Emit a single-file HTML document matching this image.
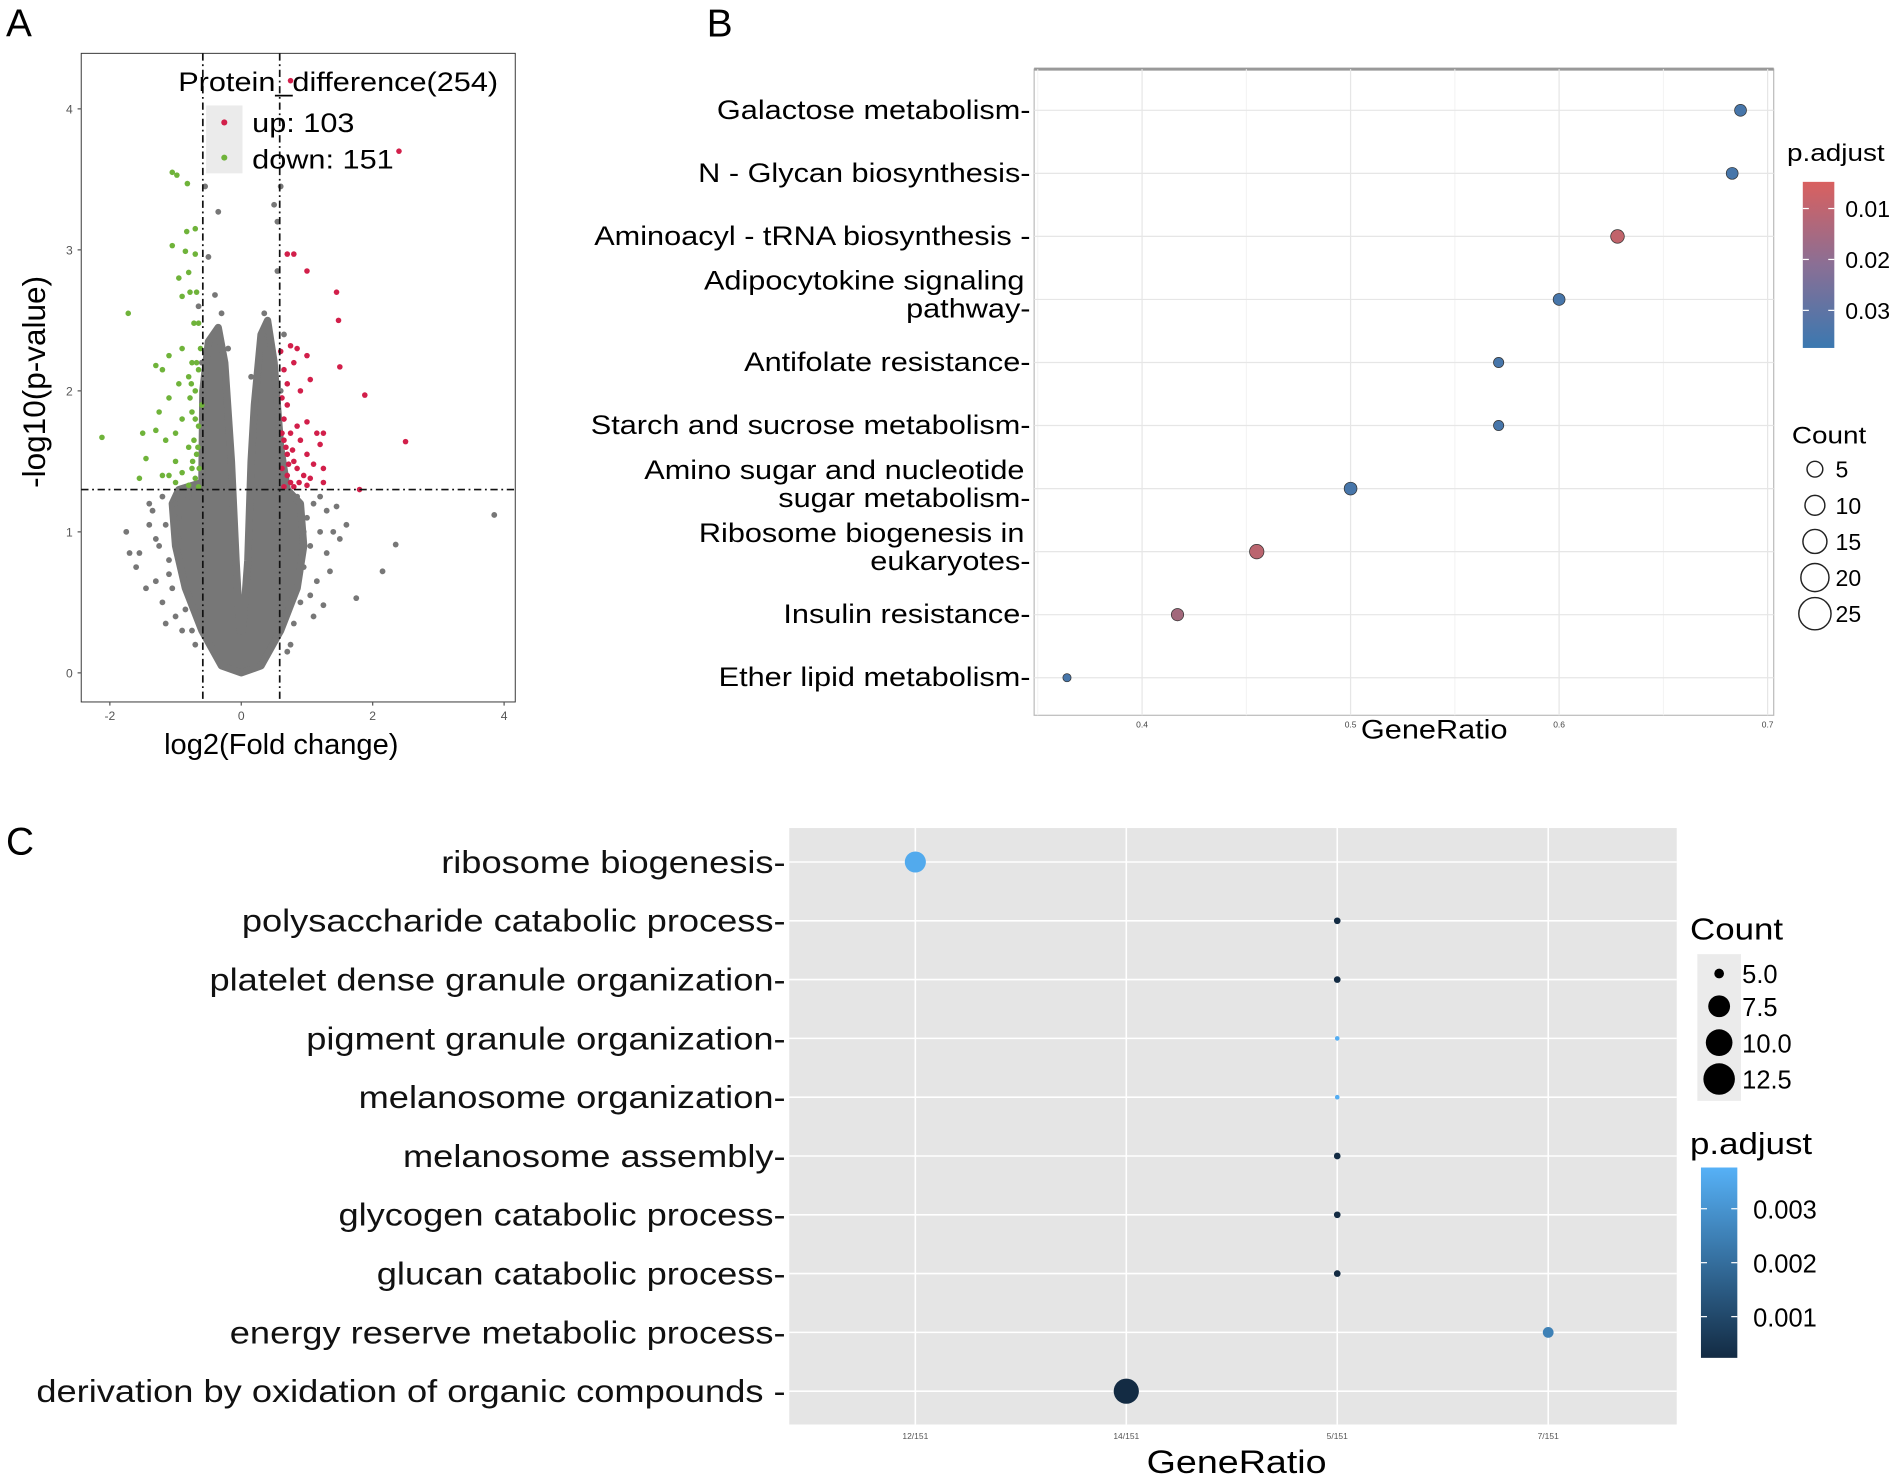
<!DOCTYPE html>
<html><head><meta charset="utf-8"><style>
html,body{margin:0;padding:0;background:#fff}
svg{display:block;font-family:"Liberation Sans",sans-serif}
</style></head><body>
<svg id="fig" width="1901" height="1482" viewBox="0 0 1568 1222.4" xmlns="http://www.w3.org/2000/svg">
<rect width="1568" height="1222.4" fill="#fff"/>
<text x="5" y="30" font-size="32">A</text>
<text x="583" y="30" font-size="32">B</text>
<text x="5" y="705" font-size="32">C</text>
<g id="A"></g>
<g id="B"></g>
<g id="C"></g>
</svg>
<script>
// ---------- Panel A data ----------
const volcXTicks=[-2,0,2,4];
const volcYTicks=[0,1,2,3,4];
const downX=[-1.05,-0.98,-0.82,-0.83,-0.7,-1.05,-0.85,-0.7,-0.8,-0.95,-0.78,-0.68,-0.9,-1.72,-0.72,-0.65,-0.9,-1.1,-0.75,-1.3,-1.2,-0.8,-0.65,-0.95,-0.7,-1.1,-0.75,-1.25,-0.9,-0.65,-1.3,-1.0,-2.12,-1.5,-1.15,-0.8,-0.68,-1.0,-0.75,-1.45,-1.2,-0.9,-0.7,-1.55,-1.0,-0.8,-0.65,-1.1,-0.6,-0.62,-0.72,-0.78,-0.66,-0.74,-0.7,-0.64,-0.76,-0.68];
const downY=[3.55,3.53,3.47,3.13,3.15,3.03,2.99,2.97,2.84,2.8,2.7,2.7,2.67,2.55,2.48,2.48,2.3,2.25,2.2,2.18,2.15,2.1,2.15,2.05,2.0,1.95,1.85,1.85,1.8,1.75,1.72,1.7,1.67,1.7,1.65,1.6,1.55,1.5,1.45,1.52,1.4,1.42,1.38,1.38,1.35,1.33,1.32,1.4,1.9,2.3,1.65,1.95,1.6,1.5,1.8,1.45,2.05,2.2];
const upX=[0.75,2.4,0.7,0.8,1.0,1.45,1.48,0.75,0.85,0.6,1.0,0.8,0.65,1.5,1.05,0.7,0.9,1.88,0.62,0.7,0.65,0.85,1.0,0.75,1.15,1.25,0.65,0.9,1.2,2.5,0.7,0.8,1.0,1.1,0.62,0.85,1.25,0.7,0.95,0.75,0.88,1.05,1.25,0.65,0.8,1.8,1.0,0.68,0.72,0.62,0.78];
const upY=[4.2,3.7,2.97,2.97,2.85,2.7,2.5,2.32,2.3,2.28,2.25,2.2,2.15,2.17,2.08,2.05,2.0,1.97,1.95,1.9,1.8,1.75,1.78,1.7,1.7,1.7,1.65,1.65,1.62,1.64,1.55,1.5,1.55,1.48,1.45,1.45,1.45,1.4,1.4,1.35,1.35,1.38,1.35,1.32,1.32,1.3,1.33,1.6,1.48,1.7,1.58];
const grayX=[-0.35,0.5,0.6,0.55,-0.55,-0.5,-0.4,-0.3,0.35,0.55,3.85,2.35,2.15,1.75,1.5,1.35,1.25,-1.75,-1.7,-1.6,-1.55,-1.4,-1.3,-1.3,-1.15,-0.9,-1.2,-1.35,1.1,1.2,1.3,1.0,0.95,-1.05,-1.1,-0.8,1.45,1.6,-0.95,1.05,0.85,-0.2,0.15,-1.25,-1.15,-1.0,-0.95,-1.2,-1.1,-1.4,-0.85,-0.75,-0.7,1.05,1.1,0.9,1.15,0.8,0.75,0.95,1.2,-0.6,-0.65,0.6,0.65,-1.45,-1.0,1.3,1.4,0.7,-0.6,0.6];
const grayY=[3.27,3.32,3.45,3.2,3.45,2.95,2.68,2.55,2.55,2.85,1.12,0.91,0.72,0.53,0.95,0.72,0.48,1.0,0.85,0.75,0.85,1.05,0.95,0.65,0.35,0.3,1.25,1.15,0.4,1.0,0.85,1.1,0.75,0.6,0.8,1.25,1.18,1.05,1.1,0.55,1.25,2.3,2.1,0.9,1.05,1.2,0.95,0.5,0.7,1.2,0.45,0.3,0.2,0.9,1.2,0.5,0.65,0.35,0.2,1.0,1.25,2.2,2.6,2.0,2.4,0.6,0.4,1.15,1.0,0.15,1.8,1.6];
const cloudX=[0,-0.3,-0.6,-0.85,-1.0,-1.05,-0.95,-0.6,-0.585,-0.5,-0.35,-0.25,-0.15,-0.08,-0.02,0.02,0.1,0.15,0.2,0.3,0.4,0.5,0.6,0.7,0.9,0.95,0.85,0.6,0.3];
const cloudY=[0,0.05,0.3,0.6,0.9,1.2,1.3,1.35,2.0,2.35,2.45,2.2,1.5,0.8,0.3,0.3,0.8,1.5,1.9,2.4,2.5,2.2,1.6,1.3,1.2,0.9,0.6,0.3,0.05];
const fcCut=[-0.585,0.585];
const pCut=1.3;

// ---------- Panel B data ----------
const keggTerms=["Galactose metabolism","N - Glycan biosynthesis","Aminoacyl - tRNA biosynthesis ","Adipocytokine signaling|pathway","Antifolate resistance","Starch and sucrose metabolism","Amino sugar and nucleotide|sugar metabolism","Ribosome biogenesis in|eukaryotes","Insulin resistance","Ether lipid metabolism"];
const keggRatio=[0.687,0.683,0.628,0.600,0.571,0.571,0.500,0.455,0.417,0.364];
const keggCount=[9,9,13,9,6,6,11,15,10,3];
const keggPadj=[0.032,0.032,0.012,0.032,0.032,0.032,0.032,0.013,0.017,0.032];
const keggXTicks=[0.4,0.5,0.6,0.7];
const keggPTicks=[0.01,0.02,0.03];
const keggCountTicks=[5,10,15,20,25];

// ---------- Panel C data ----------
const goTerms=["ribosome biogenesis","polysaccharide catabolic process","platelet dense granule organization","pigment granule organization","melanosome organization","melanosome assembly","glycogen catabolic process","glucan catabolic process","energy reserve metabolic process","derivation by oxidation of organic compounds "];
const goCats=["12/151","14/151","5/151","7/151"];
const goRatio=["12/151","5/151","5/151","5/151","5/151","5/151","5/151","5/151","7/151","14/151"];
const goCount=[12,5,5,4,4,5,5,5,7,14];
const goPadj=[0.0036,0.0002,0.0002,0.0037,0.0037,0.0002,0.0002,0.0002,0.0025,0.0002];
const goPTicks=[0.003,0.002,0.001];
const goCountTicks=[5.0,7.5,10.0,12.5];

const NS="http://www.w3.org/2000/svg";
function mk(parent,tag,attrs,text){const e=document.createElementNS(NS,tag);for(const k in attrs)e.setAttribute(k,attrs[k]);if(text!==undefined)e.textContent=text;parent.appendChild(e);return e;}
function lerp(a,b,t){return a+(b-a)*t;}
function mixHex(c1,c2,t){const p=c=>[1,3,5].map(i=>parseInt(c.substr(i,2),16));const a=p(c1),b=p(c2);return "rgb("+a.map((v,i)=>Math.round(lerp(v,b[i],t))).join(",")+")";}

// ===== Panel A =====
(function(){
const g=document.getElementById('A');
const L=67,R=425,T=44,B=579;
const sx=v=>199+54.2*v, sy=v=>555-116.3*v;
let e=mk(g,'rect',{x:L,y:T,width:R-L,height:B-T,fill:'#fff',stroke:'#333','stroke-width':0.8});

let d=cloudX.map((x,i)=>(i?'L':'M')+sx(x).toFixed(1)+','+sy(cloudY[i]).toFixed(1)).join('')+'Z';
e=mk(g,'path',{d:d,fill:'#777',stroke:'#777','stroke-width':6,'stroke-linejoin':'round'});

grayX.forEach((x,i)=>{const c=mk(g,'circle',{cx:sx(x),cy:sy(grayY[i]),r:2.4,fill:'#777'});
});
downX.forEach((x,i)=>{const c=mk(g,'circle',{cx:sx(x),cy:sy(downY[i]),r:2.3,fill:'#6fb33a'});
});
upX.forEach((x,i)=>{const c=mk(g,'circle',{cx:sx(x),cy:sy(upY[i]),r:2.3,fill:'#d21f4a'});
});
fcCut.forEach(v=>{const l=mk(g,'line',{x1:sx(v),x2:sx(v),y1:T,y2:B,stroke:'#111','stroke-width':1.4,'stroke-dasharray':'6,3,1.5,3'});
});
e=mk(g,'line',{x1:L,x2:R,y1:sy(pCut),y2:sy(pCut),stroke:'#111','stroke-width':1.4,'stroke-dasharray':'6,3,1.5,3'});

volcXTicks.forEach(v=>{mk(g,'line',{x1:sx(v),x2:sx(v),y1:B,y2:B+3,stroke:'#555'});
const t=mk(g,'text',{x:sx(v),y:B+15,'font-size':10,fill:'#555','text-anchor':'middle'},String(v));
});
volcYTicks.forEach(v=>{mk(g,'line',{x1:L-3,x2:L,y1:sy(v),y2:sy(v),stroke:'#555'});
const t=mk(g,'text',{x:L-7,y:sy(v)+4,'font-size':10,fill:'#555','text-anchor':'end'},String(v));
});
e=mk(g,'text',{x:232,y:622,'font-size':24,'text-anchor':'middle'},'log2(Fold change)');

e=mk(g,'text',{x:37,y:315,'font-size':26,'text-anchor':'middle',transform:'rotate(-90 37 315)'},'-log10(p-value)');

e=mk(g,'text',{x:147,y:75,'font-size':22,'data-stretch':'1'},'Protein_difference(254)');

mk(g,'rect',{x:170,y:87,width:30,height:56,fill:'#ebebeb'});
mk(g,'circle',{cx:185,cy:101,r:2.5,fill:'#d21f4a'});
mk(g,'circle',{cx:185,cy:130,r:2.5,fill:'#6fb33a'});
e=mk(g,'text',{x:208,y:109,'font-size':22,'data-stretch':'1'},'up: 103');

e=mk(g,'text',{x:208,y:139,'font-size':22,'data-stretch':'1'},'down: 151');

})();

// ===== Panel B =====
(function(){
const g=document.getElementById('B');
const L=853,R=1463,T=57,B=590;
const sx=v=>942+1720*(v-0.4), sy=i=>91+52*i;
const pc=p=>mixHex('#d9605f','#3b78b0',Math.max(0,Math.min(1,(p-0.008)/0.026)));
const rr=c=>1.2*Math.sqrt(c)+1.3;
let e=mk(g,'rect',{x:L,y:T,width:R-L,height:B-T,fill:'#fff',stroke:'#bbb','stroke-width':1});

mk(g,'line',{x1:L,x2:R,y1:T,y2:T,stroke:'#999','stroke-width':2.5});
[0.35,0.45,0.55,0.65].forEach(v=>mk(g,'line',{x1:sx(v),x2:sx(v),y1:T,y2:B,stroke:'#f2f2f2','stroke-width':0.8}));
keggXTicks.forEach(v=>{mk(g,'line',{x1:sx(v),x2:sx(v),y1:T,y2:B,stroke:'#e6e6e6','stroke-width':1});
const t=mk(g,'text',{x:sx(v),y:B+10,'font-size':7,fill:'#444','text-anchor':'middle'},v.toFixed(1));
});
keggTerms.forEach((name,i)=>{mk(g,'line',{x1:L,x2:R,y1:sy(i),y2:sy(i),stroke:'#e6e6e6','stroke-width':1});
const parts=name.split('|');
if(parts.length===1){const t=mk(g,'text',{x:850,y:sy(i)+7,'font-size':22,'text-anchor':'end','data-stretch':'1'},parts[0]+'-');
}
else{const t=mk(g,'text',{x:845,y:sy(i)-8,'font-size':22,'text-anchor':'end','data-stretch':'1'},parts[0]);

const t2=mk(g,'text',{x:850,y:sy(i)+15,'font-size':22,'text-anchor':'end','data-stretch':'1'},parts[1]+'-');
}
const c=mk(g,'circle',{cx:sx(keggRatio[i]),cy:sy(i),r:rr(keggCount[i]),fill:pc(keggPadj[i]),stroke:'#333','stroke-width':0.6});
});
e=mk(g,'text',{x:1183,y:609,'font-size':22,'text-anchor':'middle','data-stretch':'1'},'GeneRatio');

const defs=mk(g,'defs',{});const lg=mk(defs,'linearGradient',{id:'gb',x1:0,y1:0,x2:0,y2:1});
mk(lg,'stop',{offset:'0','stop-color':'#d9605f'});mk(lg,'stop',{offset:'0.5','stop-color':'#8a6f95'});mk(lg,'stop',{offset:'1','stop-color':'#3b78b0'});
e=mk(g,'text',{x:1474,y:133,'font-size':20,'data-stretch':'1'},'p.adjust');

e=mk(g,'rect',{x:1487,y:150,width:26,height:137,fill:'url(#gb)'});

const py=p=>172+(p-0.01)*4200;
keggPTicks.forEach(p=>{mk(g,'line',{x1:1487,x2:1492,y1:py(p),y2:py(p),stroke:'#fff'});mk(g,'line',{x1:1508,x2:1513,y1:py(p),y2:py(p),stroke:'#fff'});
const t=mk(g,'text',{x:1522,y:py(p)+7,'font-size':19},p.toFixed(2));
});
e=mk(g,'text',{x:1478,y:366,'font-size':20,'data-stretch':'1'},'Count');

keggCountTicks.forEach((c,i)=>{const y=387+29.8*i;
mk(g,'circle',{cx:1497,cy:y,r:6.5+1.7*i,fill:'none',stroke:'#222','stroke-width':1.2});
const t=mk(g,'text',{x:1514,y:y+7,'font-size':19},String(c));
});
})();

// ===== Panel C =====
(function(){
const g=document.getElementById('C');
const L=651,R=1383,T=683,B=1175;
const sx=c=>755+174*goCats.indexOf(c), sy=i=>711+48.5*i;
const pc=p=>mixHex('#132b43','#56b1f7',Math.max(0,Math.min(1,(p-0.0002)/0.0036)));
const rr=c=>0.85*c-1.5;
let e=mk(g,'rect',{x:L,y:T,width:R-L,height:B-T,fill:'#e5e5e5'});

goCats.forEach(c=>{mk(g,'line',{x1:sx(c),x2:sx(c),y1:T,y2:B,stroke:'#fff','stroke-width':1.3});
const t=mk(g,'text',{x:sx(c),y:B+12,'font-size':7,fill:'#555','text-anchor':'middle'},c);
});
goTerms.forEach((name,i)=>{mk(g,'line',{x1:L,x2:R,y1:sy(i),y2:sy(i),stroke:'#fff','stroke-width':1.3});
const t=mk(g,'text',{x:648,y:sy(i)+9,'font-size':26,'text-anchor':'end',fill:'#111','data-stretch':'1'},name+'-');

const c=mk(g,'circle',{cx:sx(goRatio[i]),cy:sy(i),r:rr(goCount[i]),fill:pc(goPadj[i])});
});
e=mk(g,'text',{x:1020,y:1215,'font-size':27,'text-anchor':'middle','data-stretch':'1'},'GeneRatio');

e=mk(g,'text',{x:1394,y:775,'font-size':25,'data-stretch':'1'},'Count');

mk(g,'rect',{x:1400,y:787,width:36,height:121,fill:'#ebebeb'});
const cy=[803,830,860,890],cr=[4,9,11,13];
goCountTicks.forEach((c,i)=>{mk(g,'circle',{cx:1418,cy:cy[i],r:cr[i],fill:'#000'});
const t=mk(g,'text',{x:1437,y:cy[i]+8,'font-size':21},c.toFixed(1));
});
e=mk(g,'text',{x:1394,y:952,'font-size':25,'data-stretch':'1'},'p.adjust');

const defs=mk(g,'defs',{});const lg=mk(defs,'linearGradient',{id:'gc',x1:0,y1:0,x2:0,y2:1});
mk(lg,'stop',{offset:'0','stop-color':'#56b1f7'});mk(lg,'stop',{offset:'1','stop-color':'#132b43'});
e=mk(g,'rect',{x:1403,y:963,width:30,height:157,fill:'url(#gc)'});

const py=p=>997+(0.003-p)*44500;
goPTicks.forEach(p=>{mk(g,'line',{x1:1403,x2:1408,y1:py(p),y2:py(p),stroke:'#fff'});mk(g,'line',{x1:1428,x2:1433,y1:py(p),y2:py(p),stroke:'#fff'});
const t=mk(g,'text',{x:1446,y:py(p)+8,'font-size':21},p.toFixed(3));
});
})();

// horizontal stretch of label text to match reference glyph widths
document.querySelectorAll('text[data-stretch]').forEach(t=>{
const x=parseFloat(t.getAttribute('x'));const k=1.15;
t.setAttribute('transform','matrix('+k+',0,0,1,'+(x-k*x)+',0)');});
</script>
</body></html>
